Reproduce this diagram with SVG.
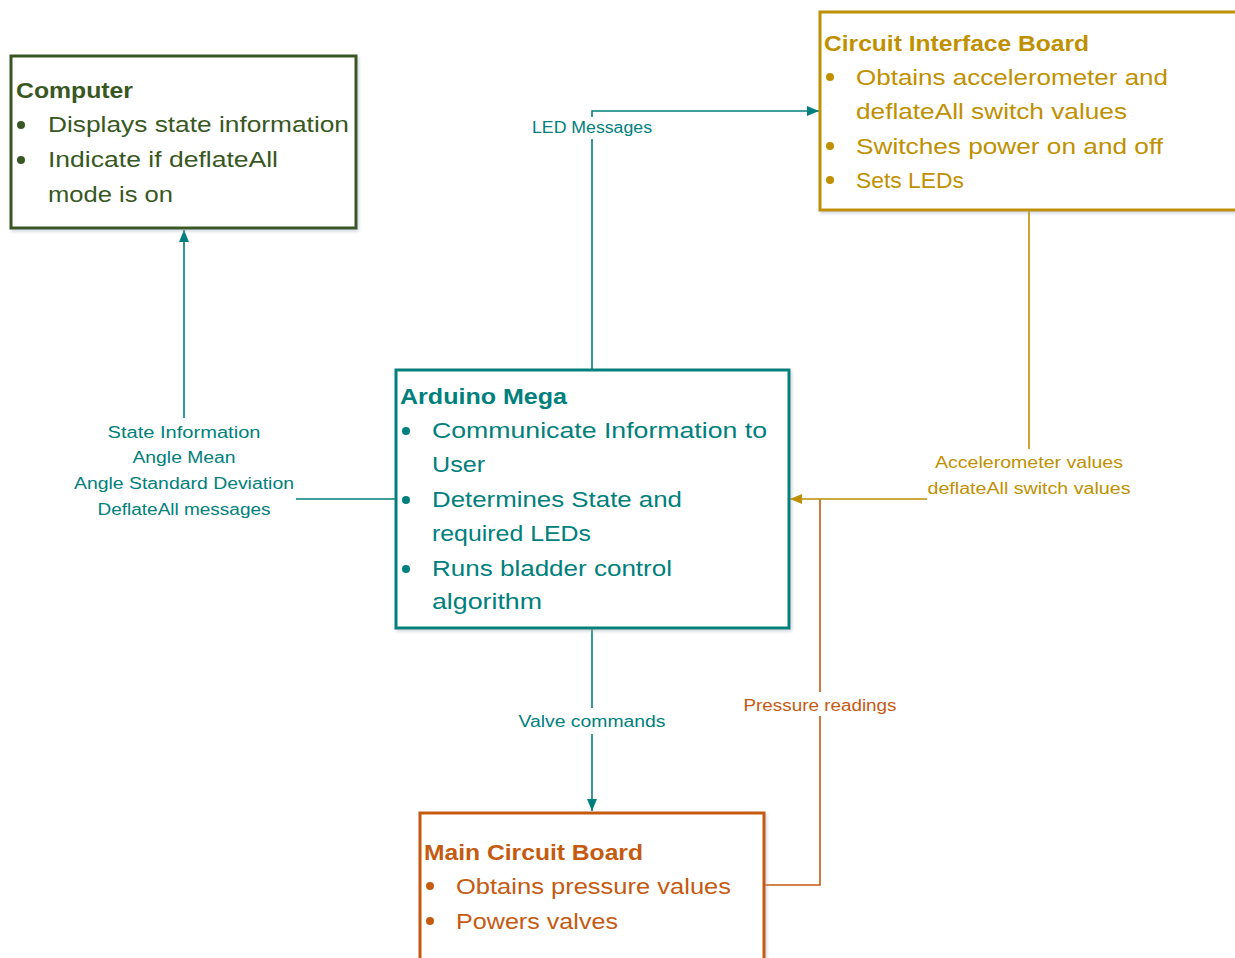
<svg xmlns="http://www.w3.org/2000/svg" width="1235" height="958" viewBox="0 0 1235 958">
  <style>
    text { font-family: "Liberation Sans", Arial, sans-serif; }
    .title { font-size: 22px; font-weight: bold; }
    .item { font-size: 22px; }
    .lbl { font-size: 16px; text-anchor: middle; }
    .box { fill: #ffffff; stroke-width: 3; filter: url(#shadow); }
    .conn { fill: none; stroke-width: 1.6; }
    .green { fill: #385723; }
    .gold { fill: #BF9000; }
    .teal { fill: #00807C; }
    .orange { fill: #C55A11; }
    .bg { fill: #ffffff; }
  </style>
  <defs>
    <filter id="shadow" x="-5%" y="-5%" width="110%" height="115%">
      <feDropShadow dx="1.5" dy="2" stdDeviation="1.5" flood-color="#9aa6b8" flood-opacity="0.45"/>
    </filter>
    <marker id="arrTeal" viewBox="0 0 12 10" refX="12" refY="5" markerWidth="12" markerHeight="10" markerUnits="userSpaceOnUse" orient="auto">
      <path d="M0,0 L12,5 L0,10 z" fill="#00807C"/>
    </marker>
    <marker id="arrGold" viewBox="0 0 12 10" refX="12" refY="5" markerWidth="12" markerHeight="10" markerUnits="userSpaceOnUse" orient="auto">
      <path d="M0,0 L12,5 L0,10 z" fill="#BF9000"/>
    </marker>
  </defs>

  <rect width="1235" height="958" fill="#ffffff"/>

  <!-- connectors -->
  <g id="connectors">
    <path class="conn" stroke="#00807C" d="M592,370 V111 H819" marker-end="url(#arrTeal)"/>
    <path class="conn" stroke="#00807C" d="M396,499 H184 V230" marker-end="url(#arrTeal)"/>
    <path class="conn" stroke="#00807C" d="M592,628 V811" marker-end="url(#arrTeal)"/>
    <path class="conn" stroke="#C55A11" d="M764,885 H820 V499"/>
    <path class="conn" stroke="#BF9000" d="M1029,210 V499 H790" marker-end="url(#arrGold)"/>

    <!-- connector labels -->
    <rect class="bg" x="528" y="117" width="128" height="22"/>
    <text class="lbl teal" x="592" y="133" textLength="120" lengthAdjust="spacingAndGlyphs">LED Messages</text>

    <rect class="bg" x="70" y="418" width="226" height="103"/>
    <text class="lbl teal" x="184" y="438" textLength="153" lengthAdjust="spacingAndGlyphs">State Information</text>
    <text class="lbl teal" x="184" y="463" textLength="103" lengthAdjust="spacingAndGlyphs">Angle Mean</text>
    <text class="lbl teal" x="184" y="489" textLength="220" lengthAdjust="spacingAndGlyphs">Angle Standard Deviation</text>
    <text class="lbl teal" x="184" y="515" textLength="173" lengthAdjust="spacingAndGlyphs">DeflateAll messages</text>

    <rect class="bg" x="927" y="449" width="206" height="52"/>
    <text class="lbl gold" x="1029" y="468" textLength="188" lengthAdjust="spacingAndGlyphs">Accelerometer values</text>
    <text class="lbl gold" x="1029" y="494" textLength="203" lengthAdjust="spacingAndGlyphs">deflateAll switch values</text>

    <rect class="bg" x="740" y="692" width="160" height="24"/>
    <text class="lbl orange" x="820" y="711" textLength="153" lengthAdjust="spacingAndGlyphs">Pressure readings</text>

    <rect class="bg" x="514" y="708" width="156" height="26"/>
    <text class="lbl teal" x="592" y="727" textLength="147" lengthAdjust="spacingAndGlyphs">Valve commands</text>
  </g>

  <!-- Computer -->
  <g id="computer">
    <rect class="box" x="11" y="56" width="345" height="172" stroke="#385723"/>
    <text class="title green" x="16" y="98" textLength="117" lengthAdjust="spacingAndGlyphs">Computer</text>
    <circle class="green" cx="21" cy="125" r="4"/>
    <text class="item green" x="48" y="132" textLength="301" lengthAdjust="spacingAndGlyphs">Displays state information</text>
    <circle class="green" cx="21" cy="160" r="4"/>
    <text class="item green" x="48" y="167" textLength="230" lengthAdjust="spacingAndGlyphs">Indicate if deflateAll</text>
    <text class="item green" x="48" y="202" textLength="125" lengthAdjust="spacingAndGlyphs">mode is on</text>
  </g>

  <!-- Circuit Interface Board -->
  <g id="circuit-interface-board">
    <rect class="box" x="820" y="12" width="430" height="198" stroke="#BF9000"/>
    <text class="title gold" x="824" y="51" textLength="265" lengthAdjust="spacingAndGlyphs">Circuit Interface Board</text>
    <circle class="gold" cx="830" cy="77" r="4"/>
    <text class="item gold" x="856" y="85" textLength="312" lengthAdjust="spacingAndGlyphs">Obtains accelerometer and</text>
    <text class="item gold" x="856" y="119" textLength="271" lengthAdjust="spacingAndGlyphs">deflateAll switch values</text>
    <circle class="gold" cx="830" cy="146" r="4"/>
    <text class="item gold" x="856" y="154" textLength="307" lengthAdjust="spacingAndGlyphs">Switches power on and off</text>
    <circle class="gold" cx="830" cy="180" r="4"/>
    <text class="item gold" x="856" y="188" textLength="108" lengthAdjust="spacingAndGlyphs">Sets LEDs</text>
  </g>

  <!-- Arduino Mega -->
  <g id="arduino-mega">
    <rect class="box" x="396" y="370" width="393" height="258" stroke="#00807C"/>
    <text class="title teal" x="400" y="404" textLength="167" lengthAdjust="spacingAndGlyphs">Arduino Mega</text>
    <circle class="teal" cx="406" cy="431" r="4"/>
    <text class="item teal" x="432" y="438" textLength="335" lengthAdjust="spacingAndGlyphs">Communicate Information to</text>
    <text class="item teal" x="432" y="472" textLength="53" lengthAdjust="spacingAndGlyphs">User</text>
    <circle class="teal" cx="406" cy="500" r="4"/>
    <text class="item teal" x="432" y="507" textLength="250" lengthAdjust="spacingAndGlyphs">Determines State and</text>
    <text class="item teal" x="432" y="541" textLength="159" lengthAdjust="spacingAndGlyphs">required LEDs</text>
    <circle class="teal" cx="406" cy="569" r="4"/>
    <text class="item teal" x="432" y="576" textLength="240" lengthAdjust="spacingAndGlyphs">Runs bladder control</text>
    <text class="item teal" x="432" y="609" textLength="110" lengthAdjust="spacingAndGlyphs">algorithm</text>
  </g>

  <!-- Main Circuit Board -->
  <g id="main-circuit-board">
    <rect class="box" x="420" y="813" width="344" height="160" stroke="#C55A11"/>
    <text class="title orange" x="424" y="860" textLength="219" lengthAdjust="spacingAndGlyphs">Main Circuit Board</text>
    <circle class="orange" cx="430" cy="886" r="4"/>
    <text class="item orange" x="456" y="894" textLength="275" lengthAdjust="spacingAndGlyphs">Obtains pressure values</text>
    <circle class="orange" cx="430" cy="921" r="4"/>
    <text class="item orange" x="456" y="929" textLength="162" lengthAdjust="spacingAndGlyphs">Powers valves</text>
  </g>
</svg>
